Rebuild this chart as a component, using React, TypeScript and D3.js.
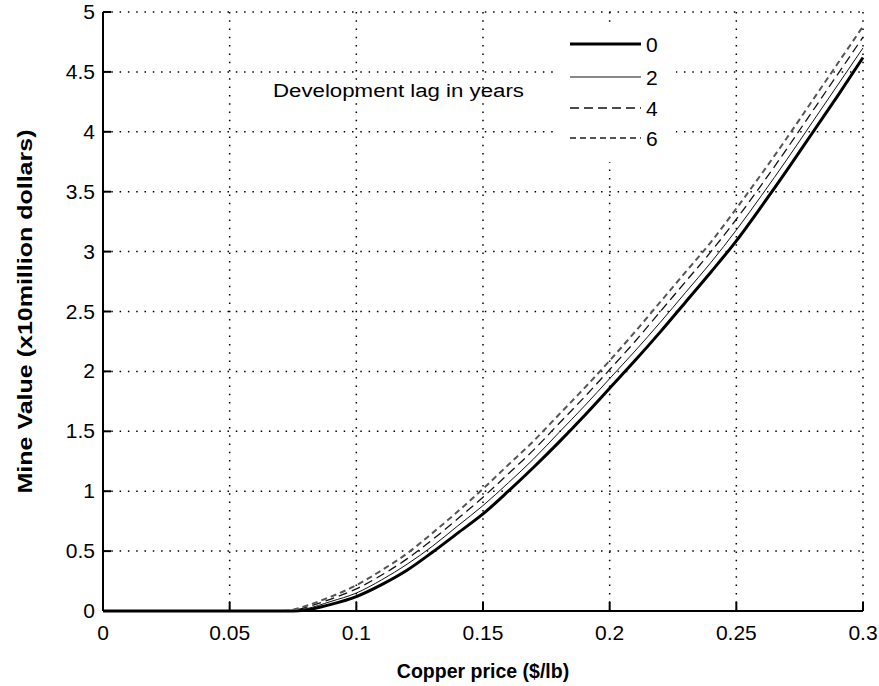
import React from "react";
import * as d3 from "d3";

const xs = [0, 0.07, 0.075, 0.08, 0.09, 0.1, 0.11, 0.12, 0.13, 0.14, 0.15, 0.16, 0.17, 0.18, 0.19, 0.2, 0.21, 0.22, 0.23, 0.24, 0.25, 0.26, 0.27, 0.28, 0.29, 0.3];
const lag0 = [0, 0, 0, 0.008, 0.055, 0.12, 0.22, 0.34, 0.49, 0.65, 0.81, 1.0, 1.2, 1.41, 1.63, 1.86, 2.09, 2.33, 2.58, 2.83, 3.09, 3.38, 3.68, 3.99, 4.3, 4.62];
const lag2 = [0, 0, 0.003, 0.018, 0.08, 0.15, 0.26, 0.39, 0.54, 0.71, 0.88, 1.07, 1.27, 1.49, 1.71, 1.94, 2.17, 2.41, 2.66, 2.91, 3.18, 3.47, 3.77, 4.08, 4.39, 4.7];
const lag4 = [0, 0, 0.006, 0.03, 0.1, 0.185, 0.3, 0.435, 0.595, 0.77, 0.95, 1.145, 1.345, 1.565, 1.785, 2.015, 2.25, 2.5, 2.75, 3.0, 3.27, 3.56, 3.86, 4.17, 4.48, 4.79];
const lag6 = [0, 0, 0.01, 0.042, 0.12, 0.215, 0.34, 0.48, 0.65, 0.83, 1.02, 1.22, 1.42, 1.64, 1.86, 2.09, 2.33, 2.58, 2.83, 3.08, 3.36, 3.65, 3.95, 4.26, 4.57, 4.88];

const seriesNames = ["0", "2", "4", "6"];
const xTicks = [0, 0.05, 0.1, 0.15, 0.2, 0.25, 0.3];
const xTickLabels = ["0", "0.05", "0.1", "0.15", "0.2", "0.25", "0.3"];
const yTicks = [0, 0.5, 1, 1.5, 2, 2.5, 3, 3.5, 4, 4.5, 5];
const yTickLabels = ["0", "0.5", "1", "1.5", "2", "2.5", "3", "3.5", "4", "4.5", "5"];

const styles = [
  { stroke: "#000", width: 3, dash: "" },
  { stroke: "#111", width: 1, dash: "" },
  { stroke: "#111", width: 1.3, dash: "9 5" },
  { stroke: "#555", width: 2, dash: "6 4" },
];

export default function App() {
  const left = 103, right = 863, top = 12, bottom = 611;
  const x = d3.scaleLinear().domain([0, 0.3]).range([left, right]);
  const y = d3.scaleLinear().domain([0, 5]).range([bottom, top]);
  const all = [lag0, lag2, lag4, lag6];
  const line = d3
    .line<number>()
    .x((_, i) => x(xs[i]))
    .y((d) => y(d))
    .curve(d3.curveMonotoneX);
  const tickFont = "'Liberation Sans', Arial, sans-serif";
  const boldFont = "Arial, 'Liberation Sans', sans-serif";
  const legY = [44, 77, 108, 138];
  return (
    <svg width={879} height={686} style={{ position: "absolute", left: 0, top: 0, background: "#fff" }}>
      <rect x={0} y={0} width={879} height={686} fill="#fff" />
      {xTicks.slice(1).map((t) => (
        <line key={"gx" + t} x1={x(t)} x2={x(t)} y1={bottom} y2={top} stroke="#000" strokeWidth={1.5} strokeDasharray="1.5 6.8" />
      ))}
      {yTicks.slice(1).map((t) => (
        <line key={"gy" + t} x1={left} x2={right} y1={y(t)} y2={y(t)} stroke="#000" strokeWidth={1.5} strokeDasharray="1.5 6.8" />
      ))}
      <rect x={556} y={24} width={120} height={138} fill="#fff" />
      {all.map((s, i) => (
        <path key={"c" + i} d={line(s) || ""} fill="none" stroke={styles[i].stroke} strokeWidth={styles[i].width} strokeDasharray={styles[i].dash} />
      ))}
      <line x1={left} x2={left} y1={top} y2={bottom} stroke="#000" strokeWidth={2} />
      <line x1={left} x2={right} y1={bottom} y2={bottom} stroke="#000" strokeWidth={2} />
      {xTicks.map((t, i) => (
        <g key={"xt" + t}>
          <line x1={x(t)} x2={x(t)} y1={bottom} y2={bottom - 9} stroke="#000" strokeWidth={2} />
          <text x={x(t)} y={640} textAnchor="middle" fontFamily={tickFont} fontSize={21}>{xTickLabels[i]}</text>
        </g>
      ))}
      {yTicks.map((t, i) => (
        <g key={"yt" + t}>
          <line x1={left} x2={left + 8} y1={y(t)} y2={y(t)} stroke="#000" strokeWidth={2} />
          <text x={95} y={y(t) + 7} textAnchor="end" fontFamily={tickFont} fontSize={21}>{yTickLabels[i]}</text>
        </g>
      ))}
      {seriesNames.map((n, i) => (
        <g key={"lg" + n}>
          <line x1={570} x2={641} y1={legY[i]} y2={legY[i]} stroke={styles[i].stroke} strokeWidth={styles[i].width} strokeDasharray={styles[i].dash} />
          <text x={646} y={legY[i] + 8} fontFamily={tickFont} fontSize={21}>{n}</text>
        </g>
      ))}
      <text x={273} y={97} fontFamily={tickFont} fontSize={18} textLength={251} lengthAdjust="spacingAndGlyphs">Development lag in years</text>
      <text x={483} y={678} textAnchor="middle" fontFamily={boldFont} fontWeight="bold" fontSize={19.5}>Copper price ($/lb)</text>
      <text transform={`translate(32,${(top + bottom) / 2}) rotate(-90)`} textAnchor="middle" fontFamily={boldFont} fontWeight="bold" fontSize={21} textLength={364} lengthAdjust="spacingAndGlyphs">Mine Value (x10million dollars)</text>
    </svg>
  );
}
